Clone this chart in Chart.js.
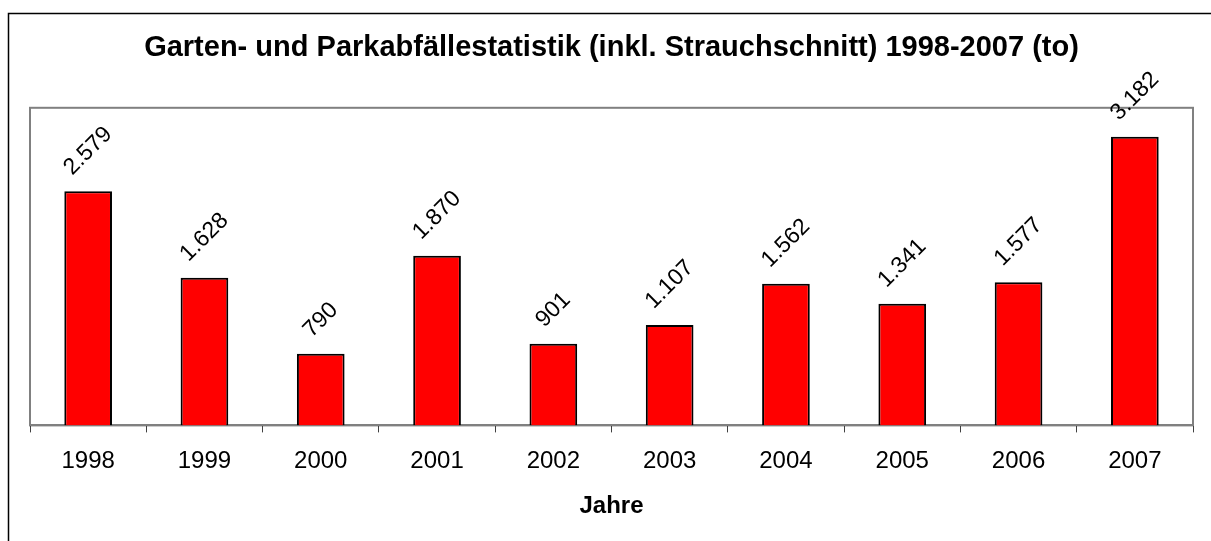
<!DOCTYPE html>
<html>
<head>
<meta charset="utf-8">
<script src="https://cdn.jsdelivr.net/npm/chart.js@4"></script>
<style>
  html, body { margin: 0; padding: 0; background: #fff; }
  #wrap { position: relative; width: 1211px; height: 541px; }
</style>
</head>
<body>
<div id="wrap"><canvas id="myChart" width="1211" height="541"></canvas></div>
<script>
const years = ['1998', '1999', '2000', '2001', '2002', '2003', '2004', '2005', '2006', '2007'];
const tonnes = [2579, 1628, 790, 1870, 901, 1107, 1562, 1341, 1577, 3182];
const yMax = 3500;

const fmt = v => v.toLocaleString('de-DE');
const fontFam = '"Liberation Sans", Arial, sans-serif';

const frame = {
    id: 'frame',
    beforeDraw(chart) {
        const c = chart.ctx;
        c.save();
        c.fillStyle = '#fff';
        c.fillRect(0, 0, chart.width, chart.height);
        c.strokeStyle = '#000';
        c.lineWidth = 1.5;
        c.beginPath();
        c.moveTo(8.5, chart.height);
        c.lineTo(8.5, 13.5);
        c.lineTo(chart.width, 13.5);
        c.stroke();
        const a = chart.chartArea;
        c.strokeStyle = '#808080';
        c.lineWidth = 2;
        c.strokeRect(a.left, a.top, a.right - a.left, a.bottom - a.top);
        c.restore();
    }
};

const valueLabels = {
    id: 'valueLabels',
    afterDatasetsDraw(chart) {
        const c = chart.ctx;
        const meta = chart.getDatasetMeta(0);
        c.save();
        c.font = '23px ' + fontFam;
        c.fillStyle = '#000';
        c.textAlign = 'center';
        c.textBaseline = 'middle';
        meta.data.forEach((bar, i) => {
            const txt = fmt(tonnes[i]);
            const w = c.measureText(txt).width;
            const d = 20 + w * 0.3536;
            c.save();
            c.translate(bar.x, bar.y - d);
            c.rotate(-Math.PI / 4);
            c.fillText(txt, 0, 0);
            c.restore();
        });
        c.restore();
    }
};

window.addEventListener('load', setup);
function setup() {
    const ctx = document.getElementById('myChart').getContext('2d');
    new Chart(ctx, {
        type: 'bar',
        data: {
            labels: years,
            datasets: [{
                label: 'to',
                data: tonnes,
                backgroundColor: '#ff0000',
                borderColor: '#000',
                borderWidth: 2,
                categoryPercentage: 1,
                barPercentage: 0.41
            }]
        },
        options: {
            responsive: false,
            animation: false,
            layout: { padding: { left: 30, right: 18, top: 0, bottom: 20 } },
            plugins: {
                legend: { display: false },
                tooltip: { enabled: false },
                title: {
                    display: true,
                    text: 'Garten- und Parkabfällestatistik (inkl. Strauchschnitt) 1998-2007 (to)',
                    color: '#000',
                    font: { family: fontFam, size: 29, weight: 'bold' },
                    padding: { top: 31, bottom: 42 }
                }
            },
            scales: {
                x: {
                    grid: {
                        drawOnChartArea: false,
                        drawTicks: true,
                        tickLength: 7,
                        color: '#404040',
                        offset: true
                    },
                    border: { color: '#808080', width: 2 },
                    ticks: {
                        color: '#000',
                        padding: 15,
                        font: { family: fontFam, size: 24 }
                    },
                    title: {
                        display: true,
                        text: 'Jahre',
                        color: '#000',
                        font: { family: fontFam, size: 24, weight: 'bold' },
                        padding: { top: 1, bottom: 0 }
                    }
                },
                y: {
                    display: false,
                    min: 0,
                    max: yMax
                }
            }
        },
        plugins: [frame, valueLabels]
    });
}
</script>
</body>
</html>
